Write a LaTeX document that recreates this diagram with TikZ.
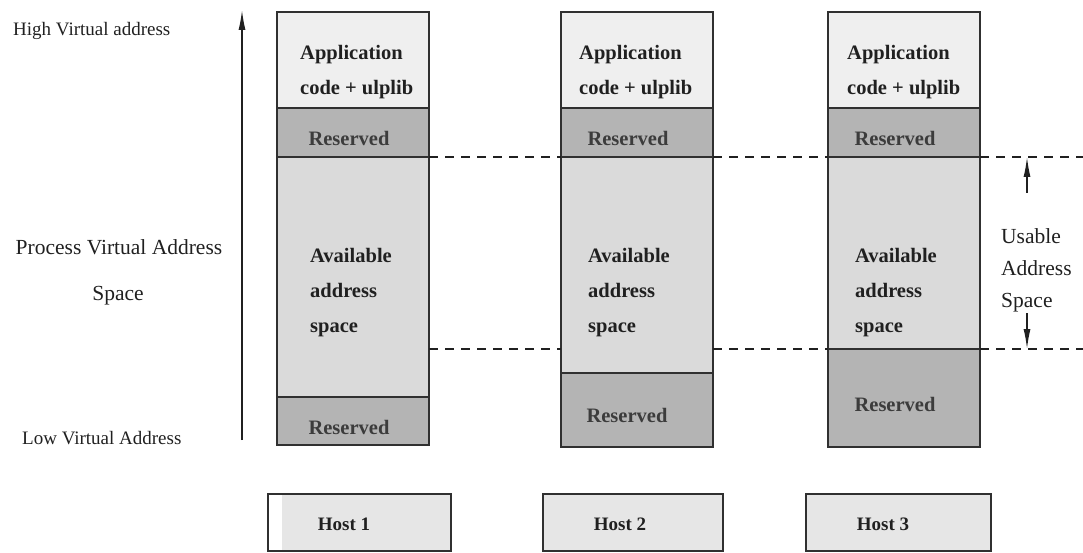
\documentclass[tikz,border=0pt]{standalone}
\usepackage{fontspec}
\setmainfont{Liberation Serif}
\usetikzlibrary{arrows.meta}
\definecolor{appfill}{HTML}{EFEFEF}
\definecolor{resfill}{HTML}{B4B4B4}
\definecolor{availfill}{HTML}{DADADA}
\definecolor{hostfill}{HTML}{E6E6E6}
\definecolor{edge}{HTML}{303030}
\definecolor{ink}{HTML}{202020}
\definecolor{resink}{HTML}{3C3C3C}

\begin{document}
\begin{tikzpicture}[x=1pt,y=-1pt,
  region/.style={draw=edge, line width=1.3pt, rectangle, inner sep=0pt,
                 outer sep=0pt, anchor=north west, minimum width=152pt},
  appbox/.style={region, fill=appfill, minimum height=96pt},
  resbox/.style={region, fill=resfill},
  availbox/.style={region, fill=availfill},
  hostbox/.style={draw=edge, line width=1.2pt, rectangle, inner sep=0pt,
                  outer sep=0pt, anchor=north west, fill=hostfill, minimum height=57pt},
  boxtext/.style={font=\fontsize{20.5}{35}\selectfont\bfseries, text=ink,
                  align=left, inner sep=0pt},
  restext/.style={font=\fontsize{20.5}{24}\selectfont\bfseries, text=resink, inner sep=0pt},
  hosttext/.style={font=\fontsize{19}{22}\selectfont\bfseries, text=ink, inner sep=0pt},
  sidetext/.style={font=\fontsize{19}{24}\selectfont, text=ink, inner sep=0pt},
  bigside/.style={font=\fontsize{21.5}{32}\selectfont, text=ink, inner sep=0pt, align=left},
  guide/.style={draw=ink, line width=1.2pt, dash pattern=on 9pt off 7pt},
  axis/.style={draw=ink, line width=1.4pt, -{Latex[length=20pt,width=7pt]}}
]
\useasboundingbox (0,0) rectangle (1083,553);

% ---- memory maps, one column per host ----
\node[appbox]   (c1app)   at (277,12)  {};
\node[resbox, minimum height=49pt]  (c1res)   at (277,108) {};
\node[availbox, minimum height=240pt] (c1avail) at (277,157) {};
\node[resbox, minimum height=48pt]  (c1low)   at (277,397) {};

\node[appbox]   (c2app)   at (561,12)  {};
\node[resbox, minimum height=49pt]  (c2res)   at (561,108) {};
\node[availbox, minimum height=216pt] (c2avail) at (561,157) {};
\node[resbox, minimum height=74pt]  (c2low)   at (561,373) {};

\node[appbox]   (c3app)   at (828,12)  {};
\node[resbox, minimum height=49pt]  (c3res)   at (828,108) {};
\node[availbox, minimum height=192pt] (c3avail) at (828,157) {};
\node[resbox, minimum height=98pt]  (c3low)   at (828,349) {};

% ---- region labels ----
\node[boxtext, anchor=west] (t1app) at (300,72) {Application\\code + ulplib};
\node[boxtext, anchor=west] (t2app) at (579,72) {Application\\code + ulplib};
\node[boxtext, anchor=west] (t3app) at (847,72) {Application\\code + ulplib};

\node[restext] (t1res) at (349,138) {Reserved};
\node[restext] (t2res) at (628,138) {Reserved};
\node[restext] (t3res) at (895,138) {Reserved};

\node[boxtext, anchor=west] (t1av) at (310,293) {Available\\address\\space};
\node[boxtext, anchor=west] (t2av) at (588,293) {Available\\address\\space};
\node[boxtext, anchor=west] (t3av) at (855,293) {Available\\address\\space};

\node[restext] (t1low) at (349,427) {Reserved};
\node[restext] (t2low) at (627,415) {Reserved};
\node[restext] (t3low) at (895,404) {Reserved};

% ---- hosts ----
\node[hostbox, minimum width=183pt] (h1) at (268,494) {};
\fill[white] (269,495) rectangle (282,550);
\node[hostbox, minimum width=180pt] (h2) at (543,494) {};
\node[hostbox, minimum width=185pt] (h3) at (806,494) {};
\node[hosttext] (th1) at (344,524) {Host 1};
\node[hosttext] (th2) at (620,524) {Host 2};
\node[hosttext] (th3) at (883,524) {Host 3};

% ---- address axis ----
\coordinate (axlow)  at (242,440);
\coordinate (axhigh) at (242,10);
\draw[axis] (axlow) -- (axhigh);
\node[sidetext, anchor=west] (lhigh) at (13,31) {High Virtual address};
\node[bigside, anchor=center] (lproc) at (119,247) {Process Virtual Address};
\node[bigside, anchor=center] (lspace) at (118,296) {Space};
\node[sidetext, anchor=west] (llow) at (22,438) {Low Virtual Address};

% ---- usable range guides ----
\coordinate (rtop) at (1083,157);
\coordinate (rbot) at (1083,349);
\draw[guide] (c1avail.north east) -- (c2avail.north west);
\draw[guide] (c2avail.north east) -- (c3avail.north west);
\draw[guide] (c3avail.north east) -- (rtop);
\draw[guide] (c1avail.east |- c3low.north) -- (c2avail.west |- c3low.north);
\draw[guide] (c2avail.east |- c3low.north) -- (c3low.north west);
\draw[guide] (c3low.north east) -- (rbot);

\node[bigside, anchor=west] (lusable) at (1001,270) {Usable\\Address\\Space};
\coordinate (uptail) at (1027,193);
\coordinate (uphead) at (1027,157);
\coordinate (dntail) at (1027,313);
\coordinate (dnhead) at (1027,349);
\draw[axis] (uptail) -- (uphead);
\draw[axis] (dntail) -- (dnhead);
\end{tikzpicture}
\end{document}
